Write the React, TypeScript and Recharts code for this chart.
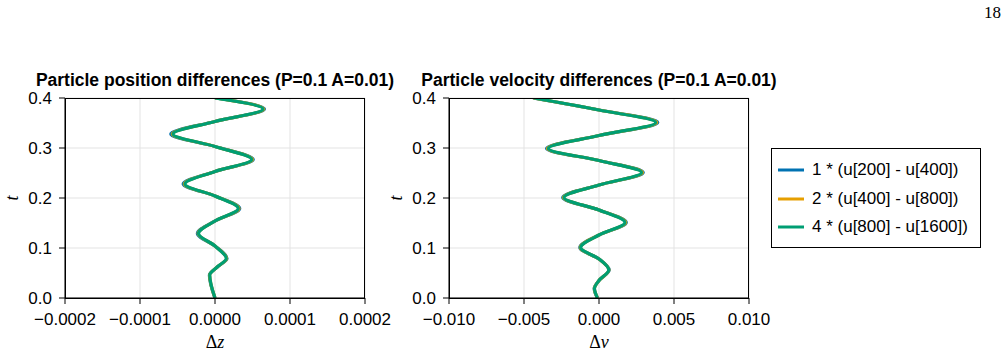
import React from "react";
import { LineChart, Line, XAxis, YAxis, CartesianGrid } from "recharts";

// time samples (extrema + zero crossings)
const posT = [0, 0.046, 0.062, 0.079, 0.104, 0.129, 0.154, 0.179, 0.204, 0.228, 0.253, 0.277, 0.303, 0.328, 0.353, 0.378, 0.4];
const posBlue = [0, -0.075e-4, 0.03e-4, 0.16e-4, 0, -0.235e-4, 0, 0.33e-4, 0, -0.425e-4, 0, 0.51e-4, 0, -0.59e-4, 0, 0.66e-4, 0];
const posOrange = [0, -0.072e-4, 0.03e-4, 0.155e-4, 0, -0.225e-4, 0, 0.32e-4, 0, -0.41e-4, 0, 0.5e-4, 0, -0.57e-4, 0, 0.65e-4, 0];
const posGreen = [0, -0.07e-4, 0.03e-4, 0.15e-4, 0, -0.22e-4, 0, 0.31e-4, 0, -0.4e-4, 0, 0.49e-4, 0, -0.56e-4, 0, 0.64e-4, 0];

const velT = [0, 0.019, 0.035, 0.056, 0.078, 0.101, 0.126, 0.151, 0.176, 0.201, 0.226, 0.251, 0.275, 0.299, 0.325, 0.351, 0.376, 0.4];
const velBlue = [-0.1e-3, -0.32e-3, 0, 0.68e-3, 0, -1.28e-3, 0, 1.82e-3, 0, -2.42e-3, 0, 2.95e-3, 0, -3.5e-3, 0, 3.92e-3, 0, -4.4e-3];
const velOrange = [-0.1e-3, -0.31e-3, 0, 0.66e-3, 0, -1.25e-3, 0, 1.78e-3, 0, -2.37e-3, 0, 2.9e-3, 0, -3.44e-3, 0, 3.85e-3, 0, -4.37e-3];
const velGreen = [-0.1e-3, -0.3e-3, 0, 0.65e-3, 0, -1.22e-3, 0, 1.73e-3, 0, -2.33e-3, 0, 2.84e-3, 0, -3.38e-3, 0, 3.78e-3, 0, -4.33e-3];

const posTicks = [-0.0002, -0.0001, 0, 0.0001, 0.0002];
const velTicks = [-0.01, -0.005, 0, 0.005, 0.01];
const tTicks = [0, 0.1, 0.2, 0.3, 0.4];

const seriesNames = ["1 * (u[200] - u[400])", "2 * (u[400] - u[800])", "4 * (u[800] - u[1600])"];
const colors = ["#0072B2", "#E69F00", "#009E73"];

const posData = posT.map((t, i) => ({ t, s1: posBlue[i], s2: posOrange[i], s3: posGreen[i] }));
const velData = velT.map((t, i) => ({ t, s1: velBlue[i], s2: velOrange[i], s3: velGreen[i] }));

const sans = "'Liberation Sans', Arial, sans-serif";
const serif = "'Liberation Serif', 'DejaVu Serif', serif";

const fmt = (digits: number) => (v: number) => {
  const s = Math.abs(v).toFixed(digits);
  return v < -1e-12 ? "\u2212" + s : s;
};

const XLabel = ({ viewBox, sym }: any) => {
  const { x, y, width } = viewBox;
  return (
    <text x={x + width / 2} y={y + 50} textAnchor="middle" fontFamily={serif} fontSize={18} fill="#000">
      Δ<tspan fontStyle="italic">{sym}</tspan>
    </text>
  );
};

const YLabel = ({ viewBox }: any) => {
  const { y, height } = viewBox;
  const cx = 12;
  const cy = y + height / 2;
  return (
    <text x={cx} y={cy} textAnchor="middle" dominantBaseline="central" transform={`rotate(-90 ${cx} ${cy})`} fontFamily={serif} fontStyle="italic" fontSize={18} fill="#000">
      t
    </text>
  );
};

function Panel({ left, data, domain, ticks, digits, sym, title }: any) {
  return (
    <div style={{ position: "absolute", left, top: 0, width: 400, height: 355 }}>
      <div
        style={{
          position: "absolute",
          left: 215 - 250,
          width: 500,
          top: 70,
          textAlign: "center",
          fontFamily: sans,
          fontWeight: "bold",
          fontSize: 17.5,
          lineHeight: "20px",
          whiteSpace: "nowrap",
        }}
      >
        {title}
      </div>
      <LineChart
        width={400}
        height={355}
        layout="vertical"
        data={data}
        margin={{ top: 98, right: 35, bottom: 7, left: 5 }}
        style={{ position: "absolute", left: 0, top: 0 }}
      >
        <CartesianGrid stroke="#e3e3e3" strokeWidth={1} />
        <XAxis
          type="number"
          domain={domain}
          ticks={ticks}
          allowDataOverflow
          height={50}
          tickFormatter={fmt(digits)}
          tick={{ fill: "#000", fontSize: 17, fontFamily: sans }}
          tickSize={6}
          tickMargin={9}
          axisLine={{ stroke: "#000" }}
          tickLine={{ stroke: "#000" }}
          label={<XLabel sym={sym} />}
        />
        <YAxis
          type="number"
          dataKey="t"
          domain={[0, 0.4]}
          ticks={tTicks}
          reversed
          allowDataOverflow
          width={60}
          tickFormatter={fmt(1)}
          tick={{ fill: "#000", fontSize: 17, fontFamily: sans }}
          tickSize={6}
          tickMargin={7}
          axisLine={{ stroke: "#000" }}
          tickLine={{ stroke: "#000" }}
          label={<YLabel />}
        />
        {["s1", "s2", "s3"].map((k, i) => (
          <Line
            key={k}
            dataKey={k}
            type="monotone"
            stroke={colors[i]}
            strokeWidth={3.2}
            dot={false}
            isAnimationActive={false}
          />
        ))}
      </LineChart>
      <div
        style={{
          position: "absolute",
          left: 65,
          top: 98,
          width: 300,
          height: 201,
          border: "1px solid #000",
          boxSizing: "border-box",
          pointerEvents: "none",
        }}
      />
    </div>
  );
}

export default function App() {
  return (
    <div style={{ position: "absolute", left: 0, top: 0, width: 1007, height: 355, background: "#fff", overflow: "hidden" }}>
      <div style={{ position: "absolute", right: 6, top: 3, fontFamily: serif, fontSize: 17 }}>18</div>
      <Panel left={0} data={posData} domain={[-0.0002, 0.0002]} ticks={posTicks} digits={4} sym="z" title="Particle position differences (P=0.1 A=0.01)" />
      <Panel left={384} data={velData} domain={[-0.01, 0.01]} ticks={velTicks} digits={3} sym="v" title="Particle velocity differences (P=0.1 A=0.01)" />
      <div
        style={{
          position: "absolute",
          left: 771,
          top: 148,
          width: 210,
          height: 100,
          border: "1px solid #000",
          boxSizing: "border-box",
          fontFamily: sans,
          fontSize: 17,
        }}
      >
        {seriesNames.map((name, i) => (
          <div key={name} style={{ position: "absolute", left: 6, top: 9 + i * 28.7, height: 24, display: "flex", alignItems: "center", whiteSpace: "nowrap" }}>
            <svg width={26} height={6} style={{ marginRight: 8 }}>
              <line x1={0} y1={3} x2={26} y2={3} stroke={colors[i]} strokeWidth={3} />
            </svg>
            {name}
          </div>
        ))}
      </div>
    </div>
  );
}
